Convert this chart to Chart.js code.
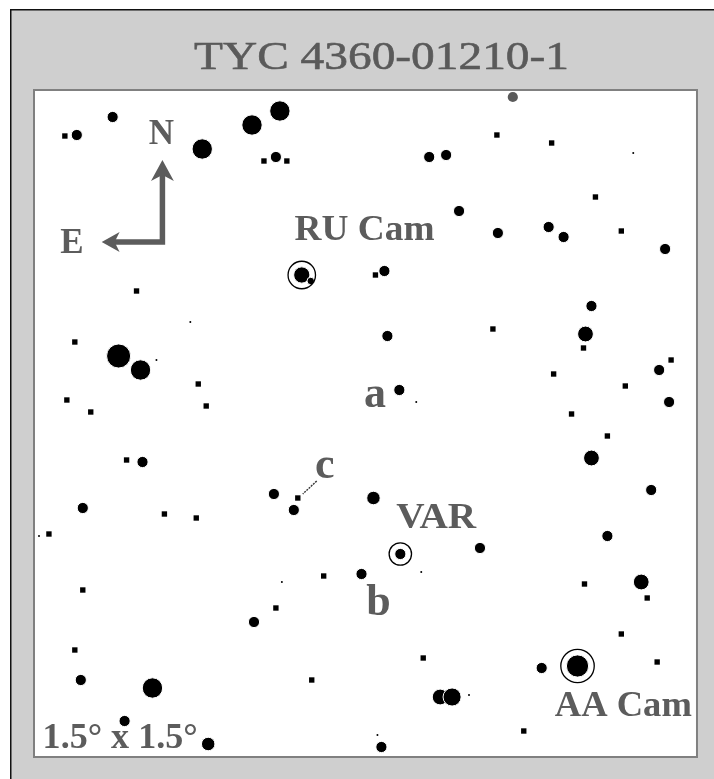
<!DOCTYPE html>
<html>
<head>
<meta charset="utf-8">
<script src="https://cdn.jsdelivr.net/npm/chart.js@4.4.1/dist/chart.umd.min.js"></script>
<style>
  html, body { margin: 0; padding: 0; background: #ffffff; }
  #wrap { width: 714px; height: 779px; position: relative; }
  canvas { display: block; }
</style>
</head>
<body>
<div id="wrap"><canvas id="chart" width="714" height="779"></canvas></div>
<script>
// ---------------- DATA ----------------
// Field coordinates of the 1.5° x 1.5° chart (east left, north up), in field units
const chartTitle = 'TYC 4360-01210-1';

// Field stars: x, y (field units, y grows southwards) and brightness class (magnitude-like)
const starX = [
  // faint stars (squares)
  65, 265, 288, 499, 554, 598, 624, 137, 377, 495, 75, 586, 674, 556, 199, 628, 67, 91, 207, 574,
  610, 127, 299, 165, 197, 49, 325, 587, 650, 83, 277, 624, 425, 660, 75, 313, 526,
  // very faint stars
  636, 191, 157, 418, 39, 423, 283, 471, 379,
  // brighter stars
  77, 113, 277, 431, 448, 461, 500, 551, 566, 668, 594, 386, 389, 662, 672, 401, 143, 275, 295, 654,
  83, 610, 482, 363, 255, 544, 81, 125, 383,
  375, 209,
  588, 594, 644, 442,
  454,
  203, 253, 281, 141, 153,
  119,
  312
];
const starY = [
  136, 161, 161, 135, 143, 197, 231, 291, 275, 329, 342, 348, 360, 374, 384, 386, 400, 412, 406, 414,
  436, 460, 498, 514, 518, 534, 576, 584, 598, 590, 608, 634, 658, 662, 650, 680, 731,
  153, 322, 360, 402, 536, 572, 582, 695, 735,
  135, 117, 157, 157, 155, 211, 233, 227, 237, 249, 306, 271, 336, 370, 402, 390, 462, 494, 510, 490,
  508, 536, 548, 574, 622, 668, 680, 721, 747,
  498, 744,
  334, 458, 582, 697,
  697,
  149, 125, 111, 370, 688,
  356,
  281
];
const starMag = [
  11.3, 11.3, 11.3, 11.3, 11.3, 11.3, 11.3, 11.3, 11.3, 11.3, 11.3, 11.3, 11.3, 11.3, 11.3, 11.3, 11.3, 11.3, 11.3, 11.3,
  11.3, 11.3, 11.3, 11.3, 11.3, 11.3, 11.3, 11.3, 11.3, 11.3, 11.3, 11.3, 11.3, 11.3, 11.3, 11.3, 11.3,
  12.5, 12.5, 12.5, 12.5, 12.5, 12.5, 12.5, 12.5, 12.5,
  10, 10, 10, 10, 10, 10, 10, 10, 10, 10, 10, 10, 10, 10, 10, 10, 10, 10, 10, 10,
  10, 10, 10, 10, 10, 10, 10, 10, 10,
  9.5, 9.5,
  9, 9, 9, 9,
  8.5,
  8, 8, 8, 8, 8,
  7.2,
  10.8
];

// Star on the northern edge of the field (drawn faded)
const edgeStarX = [515];
const edgeStarY = [97];
const edgeStarMag = [10];

// Marked variable stars
const varNames = ['RU Cam', 'VAR', 'AA Cam'];
const varX = [303, 402, 580];
const varY = [275, 554, 666];
const varMag = [8.9, 10, 7.6];

// ---------------- STYLE / LAYOUT ----------------
const FIELD = { xMin: 35, xMax: 699, yMin: 91, yMax: 756 };
const INK = '#5c5c5c';
const SERIF = '"Liberation Serif", "Times New Roman", serif';

function starRadius(m) {
  if (m >= 12) return 1;
  if (m >= 11) return 3.8;
  return 5.6 + (10 - m) * 2.3;
}
function starStyle(m) { return (m >= 11 && m < 12) ? 'rect' : 'circle'; }

// annotation texts placed in field units (x = centre, y = baseline)
const annotations = [
  { text: 'N', x: 162, y: 144, size: 35 },
  { text: 'E', x: 72, y: 253, size: 35 },
  { text: varNames[0], x: 366, y: 240, size: 35, width: 140 },
  { text: 'a', x: 376.5, y: 407, size: 44 },
  { text: 'c', x: 326, y: 478, size: 44 },
  { text: varNames[1], x: 438, y: 528, size: 35, width: 80 },
  { text: 'b', x: 380, y: 615, size: 44 },
  { text: varNames[2], x: 626, y: 716, size: 35, width: 137 },
  { text: '1.5° x 1.5°', x: 120.5, y: 748, size: 35, width: 155 }
];

function fillFitText(ctx, text, x, y, font, width, strokeW) {
  ctx.font = font;
  const w = ctx.measureText(text).width;
  const s = width ? width / w : 1;
  ctx.save();
  ctx.translate(x, y);
  ctx.scale(s, 1);
  ctx.textAlign = 'center';
  ctx.textBaseline = 'alphabetic';
  ctx.fillText(text, 0, 0);
  if (strokeW) {
    ctx.strokeStyle = ctx.fillStyle;
    ctx.lineWidth = strokeW;
    ctx.strokeText(text, 0, 0);
  }
  ctx.restore();
}

const framePlugin = {
  id: 'frame',
  beforeDraw(chart) {
    const { ctx, width, height, chartArea: a } = chart;
    ctx.save();
    ctx.fillStyle = '#ffffff';
    ctx.fillRect(0, 0, width, height);
    ctx.fillStyle = '#cfcfcf';
    ctx.fillRect(10, 9, width - 10, height - 9);
    ctx.fillStyle = '#111111';
    ctx.fillRect(10, 9, 1.5, height - 9);
    ctx.fillRect(10, 9, width - 10, 1.5);
    ctx.fillStyle = '#ffffff';
    ctx.fillRect(a.left, a.top, a.right - a.left, a.bottom - a.top);
    ctx.strokeStyle = '#808080';
    ctx.lineWidth = 2;
    ctx.strokeRect(a.left - 1, a.top - 1, a.right - a.left + 2, a.bottom - a.top + 2);
    // title
    ctx.fillStyle = '#5a5a5a';
    fillFitText(ctx, chartTitle, 381.5, 69, '41px ' + SERIF, 375, 0.6);
    ctx.restore();
  },
  afterDatasetsDraw(chart) {
    const { ctx, scales } = chart;
    const X = v => scales.x.getPixelForValue(v);
    const Y = v => scales.y.getPixelForValue(v);
    ctx.save();
    ctx.fillStyle = INK;
    ctx.strokeStyle = INK;
    // compass
    ctx.lineWidth = 5.5;
    ctx.lineCap = 'butt';
    ctx.beginPath();
    ctx.moveTo(X(163), Y(244.7));
    ctx.lineTo(X(163), Y(172));
    ctx.moveTo(X(165.7), Y(242));
    ctx.lineTo(X(113), Y(242));
    ctx.stroke();
    ctx.beginPath();
    ctx.moveTo(X(163), Y(160));
    ctx.lineTo(X(174.5), Y(181));
    ctx.lineTo(X(163), Y(175));
    ctx.lineTo(X(151.5), Y(181));
    ctx.closePath();
    ctx.fill();
    ctx.beginPath();
    ctx.moveTo(X(102), Y(242));
    ctx.lineTo(X(120), Y(232));
    ctx.lineTo(X(115), Y(242));
    ctx.lineTo(X(120), Y(252));
    ctx.closePath();
    ctx.fill();
    // pointer line of label c
    ctx.strokeStyle = '#333333';
    ctx.lineWidth = 1.4;
    ctx.setLineDash([2, 1]);
    ctx.beginPath();
    ctx.moveTo(X(318), Y(481));
    ctx.lineTo(X(304), Y(494));
    ctx.stroke();
    ctx.setLineDash([]);
    // labels
    ctx.fillStyle = INK;
    annotations.forEach(l => {
      fillFitText(ctx, l.text, X(l.x), Y(l.y), 'bold ' + l.size + 'px ' + SERIF, l.width);
    });
    ctx.restore();
  }
};

const pts = (xs, ys) => xs.map((x, i) => ({ x, y: ys[i] }));

new Chart(document.getElementById('chart'), {
  type: 'scatter',
  data: {
    datasets: [
      {
        label: 'Variable star markers',
        data: pts(varX, varY),
        order: 1,
        pointStyle: 'circle',
        pointRadius: c => starRadius(varMag[c.dataIndex]) + 5.6,
        pointBackgroundColor: 'rgba(0,0,0,0)',
        pointBorderColor: '#000000',
        pointBorderWidth: 1.3
      },
      {
        label: 'Field stars',
        data: pts(starX, starY),
        order: 2,
        pointStyle: c => starStyle(starMag[c.dataIndex]),
        pointRadius: c => starRadius(starMag[c.dataIndex]),
        pointBackgroundColor: '#000000',
        pointBorderColor: '#ffffff',
        pointBorderWidth: c => (starMag[c.dataIndex] < 11 ? 1 : 0)
      },
      {
        label: 'Variable stars',
        data: pts(varX, varY),
        order: 3,
        pointStyle: 'circle',
        pointRadius: c => starRadius(varMag[c.dataIndex]),
        pointBackgroundColor: '#000000',
        pointBorderColor: '#ffffff',
        pointBorderWidth: 1
      },
      {
        label: 'Edge stars',
        data: pts(edgeStarX, edgeStarY),
        order: 4,
        pointStyle: 'circle',
        pointRadius: c => starRadius(edgeStarMag[c.dataIndex]) - 0.5,
        pointBackgroundColor: '#5a5a5a',
        pointBorderWidth: 0
      }
    ]
  },
  options: {
    responsive: false,
    animation: false,
    devicePixelRatio: 1,
    events: [],
    layout: { padding: { left: FIELD.xMin, top: FIELD.yMin, right: 714 - FIELD.xMax, bottom: 779 - FIELD.yMax } },
    scales: {
      x: { type: 'linear', min: FIELD.xMin, max: FIELD.xMax, display: false },
      y: { type: 'linear', min: FIELD.yMin, max: FIELD.yMax, reverse: true, display: false }
    },
    plugins: {
      legend: { display: false },
      tooltip: { enabled: false },
      title: { display: false }
    }
  },
  plugins: [framePlugin]
});
</script>
</body>
</html>
